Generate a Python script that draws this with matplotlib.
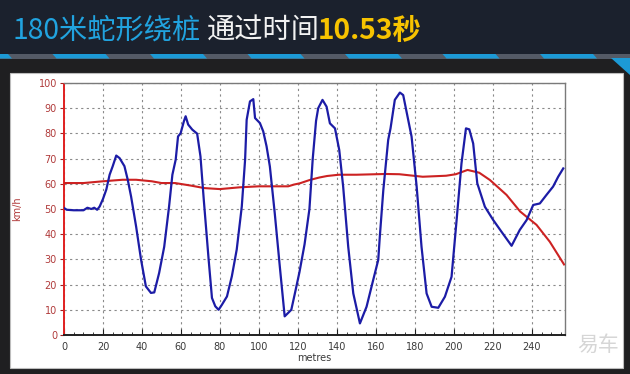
import matplotlib
matplotlib.use("Agg")
import matplotlib.pyplot as plt
from matplotlib.patches import Rectangle, Polygon
from matplotlib.ticker import MultipleLocator

plt.rcParams['font.family'] = ['Noto Sans CJK SC', 'DejaVu Sans']

# ---- data ----
blue_x = [0, 1.4, 5, 10, 12, 14, 15.5, 17, 18.3, 20, 21.7, 23.4, 25, 26.8, 28.5, 31, 32.7, 34.4,
          37, 39.5, 42, 44.6, 46.3, 48.8, 51.4, 53.9, 55.6, 57.3, 58.5, 59.8, 61.5, 62.4, 63.7,
          65.8, 68.3, 70, 71.7, 74.2, 75.9, 77.6, 79.3, 81, 83.6, 86.1, 88.6, 91.2, 92.9, 93.7,
          95.4, 97.1, 98, 100.5, 102.2, 103.9, 105.6, 108.1, 110.7, 113.2, 114.9, 116.6, 118.3,
          120.8, 123.4, 125.9, 127.6, 129.3, 130.4, 132.6, 134.7, 136.4, 139, 141.2, 143.2,
          145.8, 148.4, 151.8, 155.2, 158.6, 161.2, 162, 163.8, 166.3, 167.5, 169.7, 172.3, 174,
          178.3, 180.9, 183.4, 186, 188.6, 192, 195.4, 198.8, 201.4, 203.9, 206.2, 207.9, 209.9,
          212, 215.9, 220.2, 224.4, 229.6, 233.8, 237.3, 240.7, 244.1, 247.5, 250.9, 253.5, 256.1]
blue_y = [50.4, 49.7, 49.5, 49.5, 50.5, 50, 50.5, 49.7, 51, 54, 57.7, 63.6, 67, 71.2, 70.2, 67, 61.6, 55,
          43, 30, 19.3, 16.7, 16.9, 24.6, 35, 51, 63.6, 69.6, 78.8, 80, 84.8, 86.8, 83.5,
          81.5, 79.9, 70.9, 53.7, 29.9, 14.7, 11.4, 10, 12, 15.3, 23.3, 33.9, 51, 69.6, 85.4,
          92.7, 93.6, 86.1, 84.1, 80.8, 74.9, 66.9, 48.4, 27.2, 7.4, 8.7, 10, 16,
          25, 36, 50, 70, 85, 90, 93.3, 90.6, 84, 82, 73.4, 58.9,
          35, 16.5, 4.6, 11.2, 21.8, 29.8, 39, 57.5, 77.4, 82, 93.3, 96.2, 95.2,
          78.7, 58.9, 35, 16.5, 11.2, 10.8, 15.2, 23.1, 45.6, 68.1, 82, 81.6, 76,
          60.2, 50.9, 45.6, 41, 35.4, 41.7, 45.6, 51.6, 52.2, 55.6, 58.9, 62.8, 66.1]

red_x = [0, 10, 20, 25, 30, 37, 45, 50, 57, 65, 72, 80, 90, 100, 115, 118, 121, 126, 131, 135,
         141, 150, 165, 172, 184, 196, 201, 207, 213, 218.5, 227, 234, 242.4, 249.2, 256.5]
red_y = [60.3, 60.3, 61, 61.3, 61.6, 61.6, 61, 60.3, 60.3, 59.3, 58.3, 57.9, 58.6, 59, 59, 59.7,
         60.2, 61.5, 62.5, 63.1, 63.6, 63.6, 63.9, 63.8, 62.8, 63.2, 63.8, 65.5, 64.4, 61.5,
         55.6, 49, 43.7, 37, 28]

x_ticks = [0, 20, 40, 60, 80, 100, 120, 140, 160, 180, 200, 220, 240]
y_ticks = [0, 10, 20, 30, 40, 50, 60, 70, 80, 90, 100]

W, H = 630, 374
fig = plt.figure(figsize=(W / 100, H / 100), dpi=100)
fig.patch.set_facecolor('#1f1f21')


def fx(px):
    return px / W


def fy(py):
    return 1 - py / H


# title bar
fig.patches.append(Rectangle((0, fy(54)), 1, 1 - fy(54), transform=fig.transFigure,
                             facecolor='#1b212d', edgecolor='none', zorder=0))
# stripe
fig.patches.append(Rectangle((0, fy(58.5)), 1, fy(54) - fy(58.5), transform=fig.transFigure,
                             facecolor='#545a66', edgecolor='none', zorder=1))
period = 97.5
blue_w = 53
start = -45
k = 0
while start + k * period < W + 20:
    x0 = start + k * period
    poly = [(fx(x0), fy(54)), (fx(x0 + blue_w), fy(54)),
            (fx(x0 + blue_w + 4), fy(58.5)), (fx(x0 + 4), fy(58.5))]
    fig.patches.append(Polygon(poly, closed=True, transform=fig.transFigure,
                               facecolor='#1c9ad6', edgecolor='none', zorder=2))
    k += 1
# corner triangle
fig.patches.append(Polygon([(fx(611), fy(58)), (fx(630), fy(58)), (fx(630), fy(75))], closed=True,
                           transform=fig.transFigure, facecolor='#1c9ad6', edgecolor='none', zorder=2))

# white panel
fig.patches.append(Rectangle((fx(10), fy(368)), fx(623) - fx(10), fy(73) - fy(368),
                             transform=fig.transFigure, facecolor='white',
                             edgecolor='#bdbdbd', linewidth=0.8, zorder=3))

# title text
tsize = 20.3
fig.text(fx(12), fy(31), '180米蛇形绕桩', color='#21a3df', fontsize=tsize, va='center',
         ha='left', family=['Noto Sans CJK SC', 'DejaVu Sans'])
fig.text(fx(207), fy(31), '通过时间', color='#f2f2f2', fontsize=tsize, va='center', ha='left',
         family=['Noto Sans CJK SC', 'DejaVu Sans'])
fig.text(fx(318), fy(31), '10.53秒', color='#f7c300', fontsize=tsize, va='center', ha='left',
         fontweight='bold', family=['Noto Sans CJK SC', 'DejaVu Sans'])

# axes
ax = fig.add_axes([fx(64), fy(335), fx(565) - fx(64), fy(83) - fy(335)])
ax.set_zorder(5)
ax.set_facecolor('white')
ax.plot(red_x, red_y, color='#cc2222', linewidth=1.5, zorder=3)
ax.plot(blue_x, blue_y, color='#1c1ca6', linewidth=1.6, zorder=4)

ax.set_xlim(0, 257)
ax.set_ylim(0, 100)
ax.set_xticks(x_ticks)
ax.set_yticks(y_ticks)
ax.xaxis.set_minor_locator(MultipleLocator(5))
ax.grid(True, which='major', color='#8a8a8a', linestyle=(0, (2, 3)), linewidth=0.8)
for s in ['top', 'right']:
    ax.spines[s].set_color('#7a7a7a')
    ax.spines[s].set_linewidth(1.0)
ax.spines['left'].set_color('#e02020')
ax.spines['left'].set_linewidth(1.4)
ax.spines['left'].set_linestyle((0, (4, 1)))
ax.spines['bottom'].set_color('#202020')
ax.spines['bottom'].set_linewidth(1.4)
ax.tick_params(axis='x', which='major', direction='in', length=4, color='#202020',
               labelsize=7, labelcolor='#3a3a3a', pad=5)
ax.tick_params(axis='x', which='minor', direction='in', length=2, color='#202020')
ax.tick_params(axis='y', which='major', direction='out', length=3, color='#a02020',
               labelsize=7, labelcolor='#b03a3a', pad=2)
for lab in ax.get_xticklabels() + ax.get_yticklabels():
    lab.set_family(['DejaVu Sans'])
ax.set_xlabel('metres', fontsize=7, color='#3a3a3a', labelpad=1, family=['DejaVu Sans'])
ax.set_ylabel('km/h', fontsize=7, color='#b03a3a', labelpad=12, family=['DejaVu Sans'])

# watermark
fig.text(fx(598), fy(345), '易车', color='#d6d6d6', fontsize=15, ha='center', va='center',
         zorder=10, family=['Noto Sans CJK SC', 'DejaVu Sans'])

fig.savefig('out.png', dpi=100, facecolor=fig.get_facecolor())
